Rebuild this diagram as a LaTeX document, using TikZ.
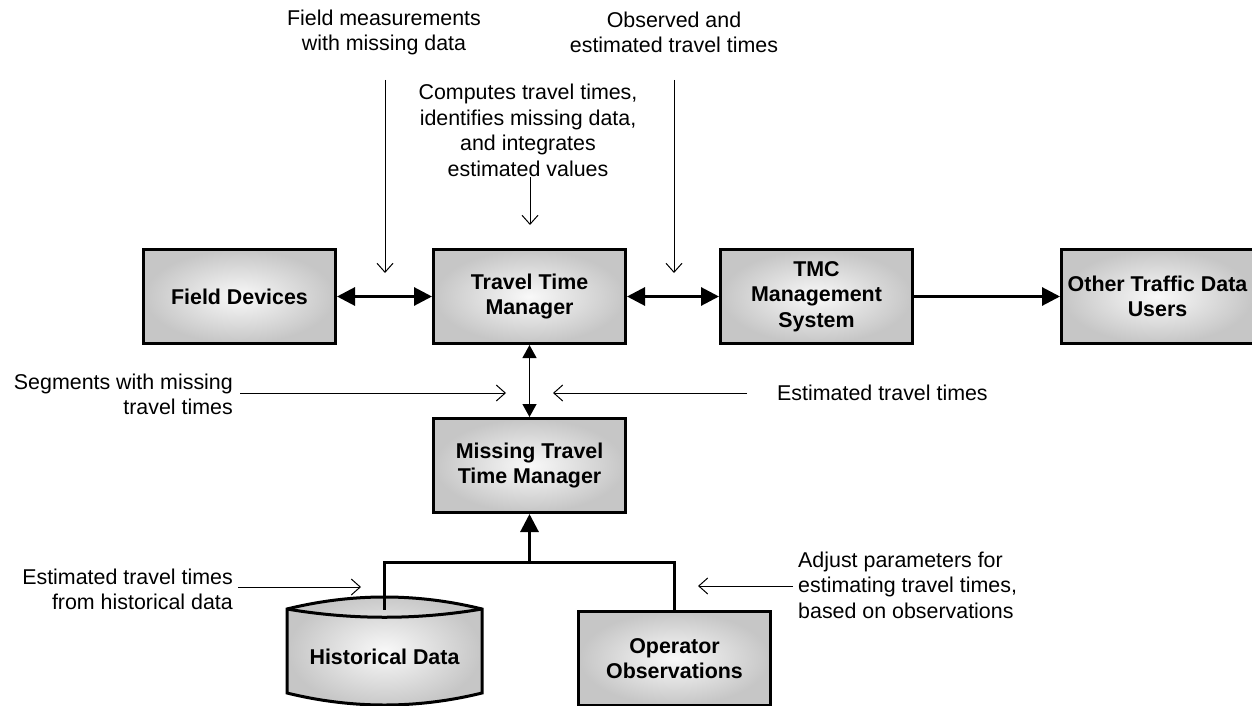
\documentclass[tikz,border=0pt]{standalone}
\usepackage{fontspec}
\setmainfont{Liberation Sans}
\usetikzlibrary{arrows.meta}
\newcommand{\dfdfont}{\fontsize{21.4}{25.5}\selectfont}
\tikzstyle{box} = [rectangle, minimum width=192pt, minimum height=94pt, align=center, draw=black, line width=3pt, inner color=gray!5, outer color=gray!45, font=\dfdfont\bfseries]
\tikzstyle{store} = [rectangle, minimum width=192pt, minimum height=94pt, align=center, font=\dfdfont\bfseries]
\tikzstyle{remark} = [inner sep=0pt, font=\dfdfont]
\tikzstyle{biglink} = [line width=3pt]
\tikzstyle{bigarrow} = [line width=3pt, -{Triangle[length=18pt,width=18pt]}]
\tikzstyle{bigdouble} = [line width=3pt, {Triangle[length=18pt,width=18pt]}-{Triangle[length=18pt,width=18pt]}]
\tikzstyle{thindouble} = [line width=1.2pt, {Triangle[length=13pt,width=14pt]}-{Triangle[length=13pt,width=14pt]}]
\tikzstyle{note} = [line width=1pt, -{Straight Barb[length=9pt,width=16pt]}]

\begin{document}
\begin{tikzpicture}[x=1pt, y=-1pt, node distance=290pt]
\useasboundingbox (0,0) rectangle (1252,706);

% main row
\node (fd) [box] at (239.5,296.5) {Field Devices};
\node (ttm) [box, right of=fd] {Travel Time\\Manager};
\node (tmc) [box, right of=ttm, xshift=-3pt] {TMC\\Management\\System};
\node (other) [box, right of=tmc, xshift=51pt] {Other Traffic Data\\Users};
\node (mttm) [box, below of=ttm, yshift=121pt] {Missing Travel\\Time Manager};

% data sources
\draw[line width=3pt, inner color=gray!5, outer color=gray!45] (287,609) .. controls (352,593) and (417,593) .. (482,609) -- (482,693) .. controls (417,709) and (352,709) .. (287,693) -- cycle;
\draw[line width=3pt] (287,609) .. controls (352,620) and (417,620) .. (482,609);
\node (hist) [store] at (384.5,657) {Historical Data};
\node (oper) [box] at (674.5,658.5) {Operator\\Observations};

\draw[bigdouble] (fd) -- (ttm);
\draw[bigdouble] (ttm) -- (tmc);
\draw[bigarrow] (tmc) -- (other);
\draw[thindouble] (ttm) -- (mttm);

\coordinate (jn) at (529.5,562);
\draw[biglink] (hist.north) |- (jn) -| (oper.north);
\draw[bigarrow] (jn) -- (mttm.south);

% annotations
\node (fmtxt) [remark, align=center] at (384,32.5) {Field measurements\\with missing data};
\node (obtxt) [remark, align=center] at (674,32.5) {Observed and\\estimated travel times};
\node (cptxt) [remark, align=center] at (528,130.5) {Computes travel times,\\identifies missing data,\\and integrates\\estimated values};
\node (sgtxt) [remark, align=right, anchor=east] at (233,394.5) {Segments with missing\\travel times};
\node (ettxt) [remark, anchor=west] at (777,393) {Estimated travel times};
\node (ehtxt) [remark, align=right, anchor=east] at (233,589.5) {Estimated travel times\\from historical data};
\node (adtxt) [remark, align=left, anchor=west] at (798,585) {Adjust parameters for\\estimating travel times,\\based on observations};

\coordinate (fm1) at (385,80);  \coordinate (fm2) at (385,273);
\coordinate (ob1) at (674,80);  \coordinate (ob2) at (674,273);
\coordinate (cp1) at (530,177); \coordinate (cp2) at (530,225);
\coordinate (sg1) at (240,393); \coordinate (sg2) at (506,393);
\coordinate (et1) at (747,393); \coordinate (et2) at (553,393);
\coordinate (eh1) at (238,587); \coordinate (eh2) at (361,587);
\coordinate (ad1) at (793,586); \coordinate (ad2) at (698,586);

\draw[note] (fm1) -- (fm2);
\draw[note] (ob1) -- (ob2);
\draw[note] (cp1) -- (cp2);
\draw[note] (sg1) -- (sg2);
\draw[note] (et1) -- (et2);
\draw[note] (eh1) -- (eh2);
\draw[note] (ad1) -- (ad2);
\end{tikzpicture}
\end{document}
